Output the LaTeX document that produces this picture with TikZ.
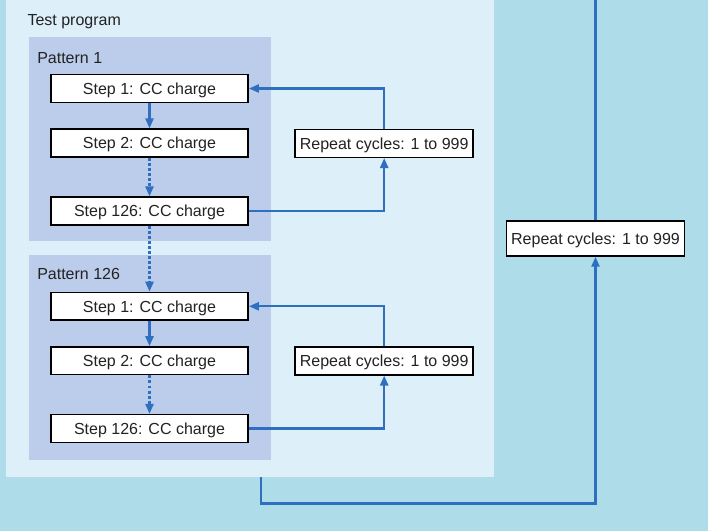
\documentclass[tikz,border=0pt]{standalone}
\usepackage{fontspec}
\setmainfont{Liberation Sans}
\usepackage{tikz}
\usetikzlibrary{arrows.meta, positioning}
\definecolor{skyblue}{HTML}{AEDCE8}
\definecolor{paleblue}{HTML}{DDEFF9}
\definecolor{patternblue}{HTML}{BCCDEB}
\definecolor{flowblue}{HTML}{2F6FBF}
\definecolor{inkgray}{HTML}{222222}

\begin{document}
\begin{tikzpicture}[x=0.75pt, y=-0.75pt,
		stepbox/.style={draw=black, fill=white, line width=1.1pt, inner sep=0pt,
			minimum width=148pt, minimum height=20.8pt,
			text height=8.6pt, text depth=0pt,
			font=\fontsize{12}{14}\selectfont, text=inkgray},
		repeatbox/.style={stepbox, minimum width=133.5pt, minimum height=21pt},
		label/.style={anchor=base west, inner sep=0pt,
			font=\fontsize{12}{14}\selectfont, text=inkgray},
		flow/.style={draw=flowblue, line width=1.75pt},
		flowarrow/.style={flow, -{Triangle[length=7.5pt, width=6pt]}},
		dotflow/.style={flowarrow, dash pattern=on 2.2pt off 1.6pt}]
	\useasboundingbox (0,0) rectangle (708,531);
	\fill[skyblue] (0,0) rectangle (708,531);
	\fill[paleblue] (6,0) rectangle (494,477);
	\fill[patternblue] (29,37) rectangle (271,241.5);
	\fill[patternblue] (29,255) rectangle (271,460);

	\node[label] (program) at (27.3,25.5) {Test program};
	\node[label] (pattern1) at (37,63.3) {Pattern 1};
	\node[label] (pattern126) at (37,280) {Pattern 126};

	\node[stepbox] (p1s1) at (149.5,88.5) {Step 1: CC charge};
	\node[stepbox] (p1s2) at (149.5,143) {Step 2: CC charge};
	\node[stepbox] (p1s126) at (149.5,211) {Step 126: CC charge};
	\node[stepbox] (p2s1) at (149.5,306.3) {Step 1: CC charge};
	\node[stepbox] (p2s2) at (149.5,360.8) {Step 2: CC charge};
	\node[stepbox] (p2s126) at (149.5,428.5) {Step 126: CC charge};

	\node[repeatbox] (p1repeat) at (384.2,143.3) {Repeat cycles: 1 to 999};
	\node[repeatbox] (p2repeat) at (384.2,360.8) {Repeat cycles: 1 to 999};
	\node[repeatbox, minimum height=26.25pt] (allrepeat) at (595.5,238.5) {Repeat cycles: 1 to 999};

	\coordinate (top) at (595.5,0);
	\coordinate (progbottom) at (261,477);

	\draw[flowarrow] (p1s1) -- (p1s2);
	\draw[dotflow] (p1s2) -- (p1s126);
	\draw[dotflow] (p1s126) -- (p2s1);
	\draw[flowarrow] (p2s1) -- (p2s2);
	\draw[dotflow] (p2s2) -- (p2s126);

	\draw[flowarrow] (p1s126.east) -| (p1repeat.south);
	\draw[flowarrow] (p1repeat.north) |- (p1s1.east);
	\draw[flowarrow] (p2s126.east) -| (p2repeat.south);
	\draw[flowarrow] (p2repeat.north) |- (p2s1.east);

	\draw[flow] (top) -- (allrepeat.north);
	\draw[flowarrow] (progbottom) -- (261,503.5) -| (allrepeat.south);
\end{tikzpicture}
\end{document}
